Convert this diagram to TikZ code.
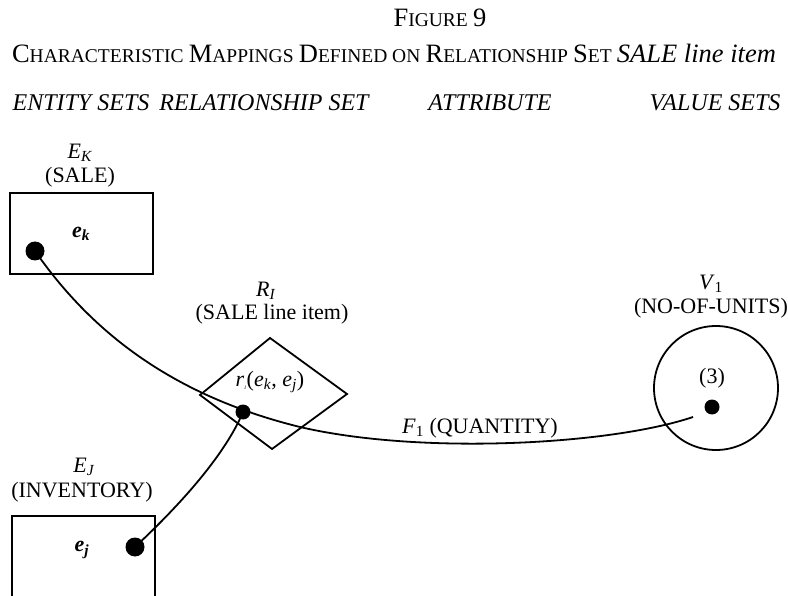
\documentclass[tikz,border=0pt]{standalone}
\usepackage{fontspec}
\setmainfont{Liberation Serif}
\newcommand\sbs[1]{\textsubscript{#1}}
\newcommand\Bg[1]{{\fontsize{26.5}{29}\selectfont #1}}
\newcommand\Sm[1]{{\fontsize{19.5}{22}\selectfont #1}}
\tikzset{
  lbl/.style={font=\fontsize{22}{24}\selectfont, inner sep=0pt, align=center},
  head/.style={font=\fontsize{24}{26}\selectfont\itshape, inner sep=0pt},
  ttl/.style={font=\fontsize{21}{24}\selectfont, inner sep=0pt},
  bigdot/.style={circle, fill=black, inner sep=0pt, minimum size=19pt},
  smalldot/.style={circle, fill=black, inner sep=0pt, minimum size=15pt},
  line/.style={line width=1.8pt},
  box/.style={draw, line width=1.8pt}
}
\begin{document}
\begin{tikzpicture}[x=1pt, y=-1pt]
\useasboundingbox (0,0) rectangle (788,596);
\clip (0,0) rectangle (788,596);
% titles
\node[ttl] (fig) at (440,18) {\Bg{F}\Sm{IGURE} \Bg{9}};
\node[ttl] (title) at (394,53) {\Bg{C}\Sm{HARACTERISTIC} \Bg{M}\Sm{APPINGS} \Bg{D}\Sm{EFINED ON} \Bg{R}\Sm{ELATIONSHIP} \Bg{S}\Sm{ET} \Bg{\textit{SALE line item}}};
\node[head] (h1) at (81,103) {ENTITY SETS};
\node[head] (h2) at (264,103) {RELATIONSHIP SET};
\node[head] (h3) at (490,103) {ATTRIBUTE};
\node[head] (h4) at (715,103) {VALUE SETS};
% entity K
\node[lbl] (EK) at (80,153) {\textit{E}\sbs{\textit{K}}};
\node[lbl] (EKn) at (80,177) {(SALE)};
\draw[box] (10,193) rectangle (153,274);
\node[lbl] (ek) at (81,234) {\textbf{\textit{e}}\sbs{\textbf{\textit{k}}}};
\node[bigdot] (dk) at (35,251) {};
% relationship
\node[lbl] (RI) at (266,291) {\textit{R}\sbs{\textit{I}}};
\node[lbl] (RIn) at (272,314) {(SALE line item)};
\coordinate (dT) at (270,338);
\coordinate (dR) at (347,394);
\coordinate (dB) at (272,449);
\coordinate (dL) at (200,395);
\draw[line, line join=miter] (dT) -- (dR) -- (dB) -- (dL) -- cycle;
\node[lbl] (rtext) at (270,382) {\textit{r}\sbs{\textit{\tiny I}}(\textit{e}\sbs{\textit{k}}, \textit{e}\sbs{\textit{j}})};
\node[smalldot] (dr) at (243,412) {};
% value set
\node[lbl] (V1) at (711,284) {\textit{V}\sbs{1}};
\node[lbl] (V1n) at (711,308) {(NO-OF-UNITS)};
\node[draw, circle, line width=1.8pt, minimum size=124pt, inner sep=0pt] (vc) at (716,388) {};
\node[lbl] (three) at (712,378) {(3)};
\node[smalldot] (dv) at (712,407) {};
\coordinate (vend) at (693,417);
% entity J
\node[lbl] (EJ) at (84,467) {\textit{E}\sbs{\textit{J}}};
\node[lbl] (EJn) at (82,492) {(INVENTORY)};
\draw[line] (12,610) -- (12,516) -- (155,516) -- (155,610);
\node[lbl] (ej) at (82,550) {\textbf{\textit{e}}\sbs{\textbf{\textit{j}}}};
\node[bigdot] (dj) at (135,547) {};
% attribute
\node[lbl] (F1) at (480,428) {\textit{F}\sbs{1} (QUANTITY)};
% connectors
\draw[line] (dk.center) .. controls (90,330) and (170,395) .. (300,427)
  .. controls (420,455) and (610,445) .. (vend);
\draw[line] (dj.center) .. controls (180,505) and (225,455) .. (dr.center);
\end{tikzpicture}
\end{document}
